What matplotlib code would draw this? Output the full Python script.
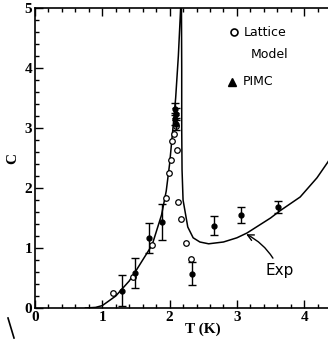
import numpy as np
import matplotlib
matplotlib.use("Agg")
import matplotlib.pyplot as plt
from matplotlib.ticker import MultipleLocator

# experimental specific heat curve (left and right of the lambda point)
exp_T = [0.75, 0.9, 1.0, 1.2, 1.4, 1.5, 1.6, 1.74, 1.88, 1.95, 2.0, 2.05, 2.09, 2.13, 2.16, 2.175,
         2.18, 2.18, 2.185, 2.2, 2.27, 2.35, 2.45, 2.58, 2.8, 3.0, 3.15, 3.5, 3.64, 3.94, 4.19, 4.35, 4.5]
exp_C = [0.0, 0.01, 0.04, 0.2, 0.45, 0.62, 0.8, 1.05, 1.55, 1.95, 2.4, 3.0, 3.5, 4.2, 4.9, 5.3,
         4.0, 3.0, 2.3, 1.8, 1.35, 1.17, 1.1, 1.07, 1.1, 1.17, 1.25, 1.5, 1.62, 1.85, 2.17, 2.43, 2.7]

# lattice model (open circles)
lat_T = [1.16, 1.45, 1.74, 1.94, 1.99, 2.02, 2.04, 2.07, 2.10, 2.11, 2.13, 2.17, 2.24, 2.32]
lat_C = [0.25, 0.52, 1.05, 1.83, 2.25, 2.47, 2.78, 2.90, 3.03, 2.63, 1.77, 1.48, 1.08, 0.82]

# PIMC (filled circles with error bars)
pimc_T = [1.30, 1.48, 1.70, 1.89, 2.08, 2.09, 2.08, 2.10, 2.34, 2.66, 3.06, 3.61]
pimc_C = [0.29, 0.58, 1.17, 1.43, 3.32, 3.24, 3.15, 3.06, 0.57, 1.37, 1.55, 1.68]
pimc_err = [0.26, 0.25, 0.25, 0.30, 0.10, 0.10, 0.10, 0.10, 0.19, 0.16, 0.13, 0.10]

x_ticks = [0, 1, 2, 3, 4, 5]
x_ticklabels = ['0', '1', '2', '3', '4', '']

fig = plt.figure(figsize=(3.28, 3.41), dpi=100)
ax = fig.add_axes([35/328, 33/341, 5*67.3/328, 300/341])

ax.plot(exp_T, exp_C, color='black', lw=1.1)
ax.plot(lat_T, lat_C, 'o', mfc='white', mec='black', ms=4, mew=0.9)
ax.errorbar(pimc_T, pimc_C, yerr=pimc_err, fmt='o', color='black', ms=3.5,
            elinewidth=1.0, capsize=3, capthick=1.0)

ax.set_xlim(0, 5)
ax.set_ylim(0, 5)
ax.set_xticks(x_ticks)
ax.set_xticklabels(x_ticklabels)
ax.xaxis.set_minor_locator(MultipleLocator(0.2))
ax.yaxis.set_major_locator(MultipleLocator(1))
ax.yaxis.set_minor_locator(MultipleLocator(0.2))
ax.tick_params(which='both', direction='in', top=True, right=True, width=1.0)
ax.tick_params(which='major', length=6, pad=2)
ax.tick_params(which='minor', length=3)
for lab in ax.get_xticklabels() + ax.get_yticklabels():
    lab.set_fontfamily('Liberation Serif')
    lab.set_fontweight('bold')
    lab.set_fontsize(11)
for s in ax.spines.values():
    s.set_linewidth(1.2)

ax.set_xlabel('T (K)', fontfamily='Liberation Serif', fontweight='bold', fontsize=11, labelpad=-1)
ax.set_ylabel('C', fontfamily='Liberation Serif', fontweight='bold', fontsize=11, labelpad=4)

# hand-written legend and labels
ax.plot([2.95], [4.6], 'o', mfc='white', mec='black', ms=5, mew=1.2)
ax.text(3.1, 4.6, 'Lattice', fontsize=9, va='center', fontfamily='DejaVu Sans')
ax.text(3.2, 4.23, 'Model', fontsize=9, va='center', fontfamily='DejaVu Sans')
ax.plot([2.93], [3.77], '^', color='black', ms=6)
ax.text(3.08, 3.77, 'PIMC', fontsize=9, va='center', fontfamily='DejaVu Sans')
ax.annotate('Exp', xy=(3.1, 1.25), xytext=(3.42, 0.62), fontsize=11,
            fontfamily='DejaVu Sans', va='center',
            arrowprops=dict(arrowstyle='->', color='black', lw=1.0,
                            connectionstyle='arc3,rad=0.2'))
fig.add_artist(plt.Line2D([8/328, 14/328], [1 - 318/341, 1 - 338/341], color='black', lw=1.2))

fig.savefig('out.png', dpi=100)
